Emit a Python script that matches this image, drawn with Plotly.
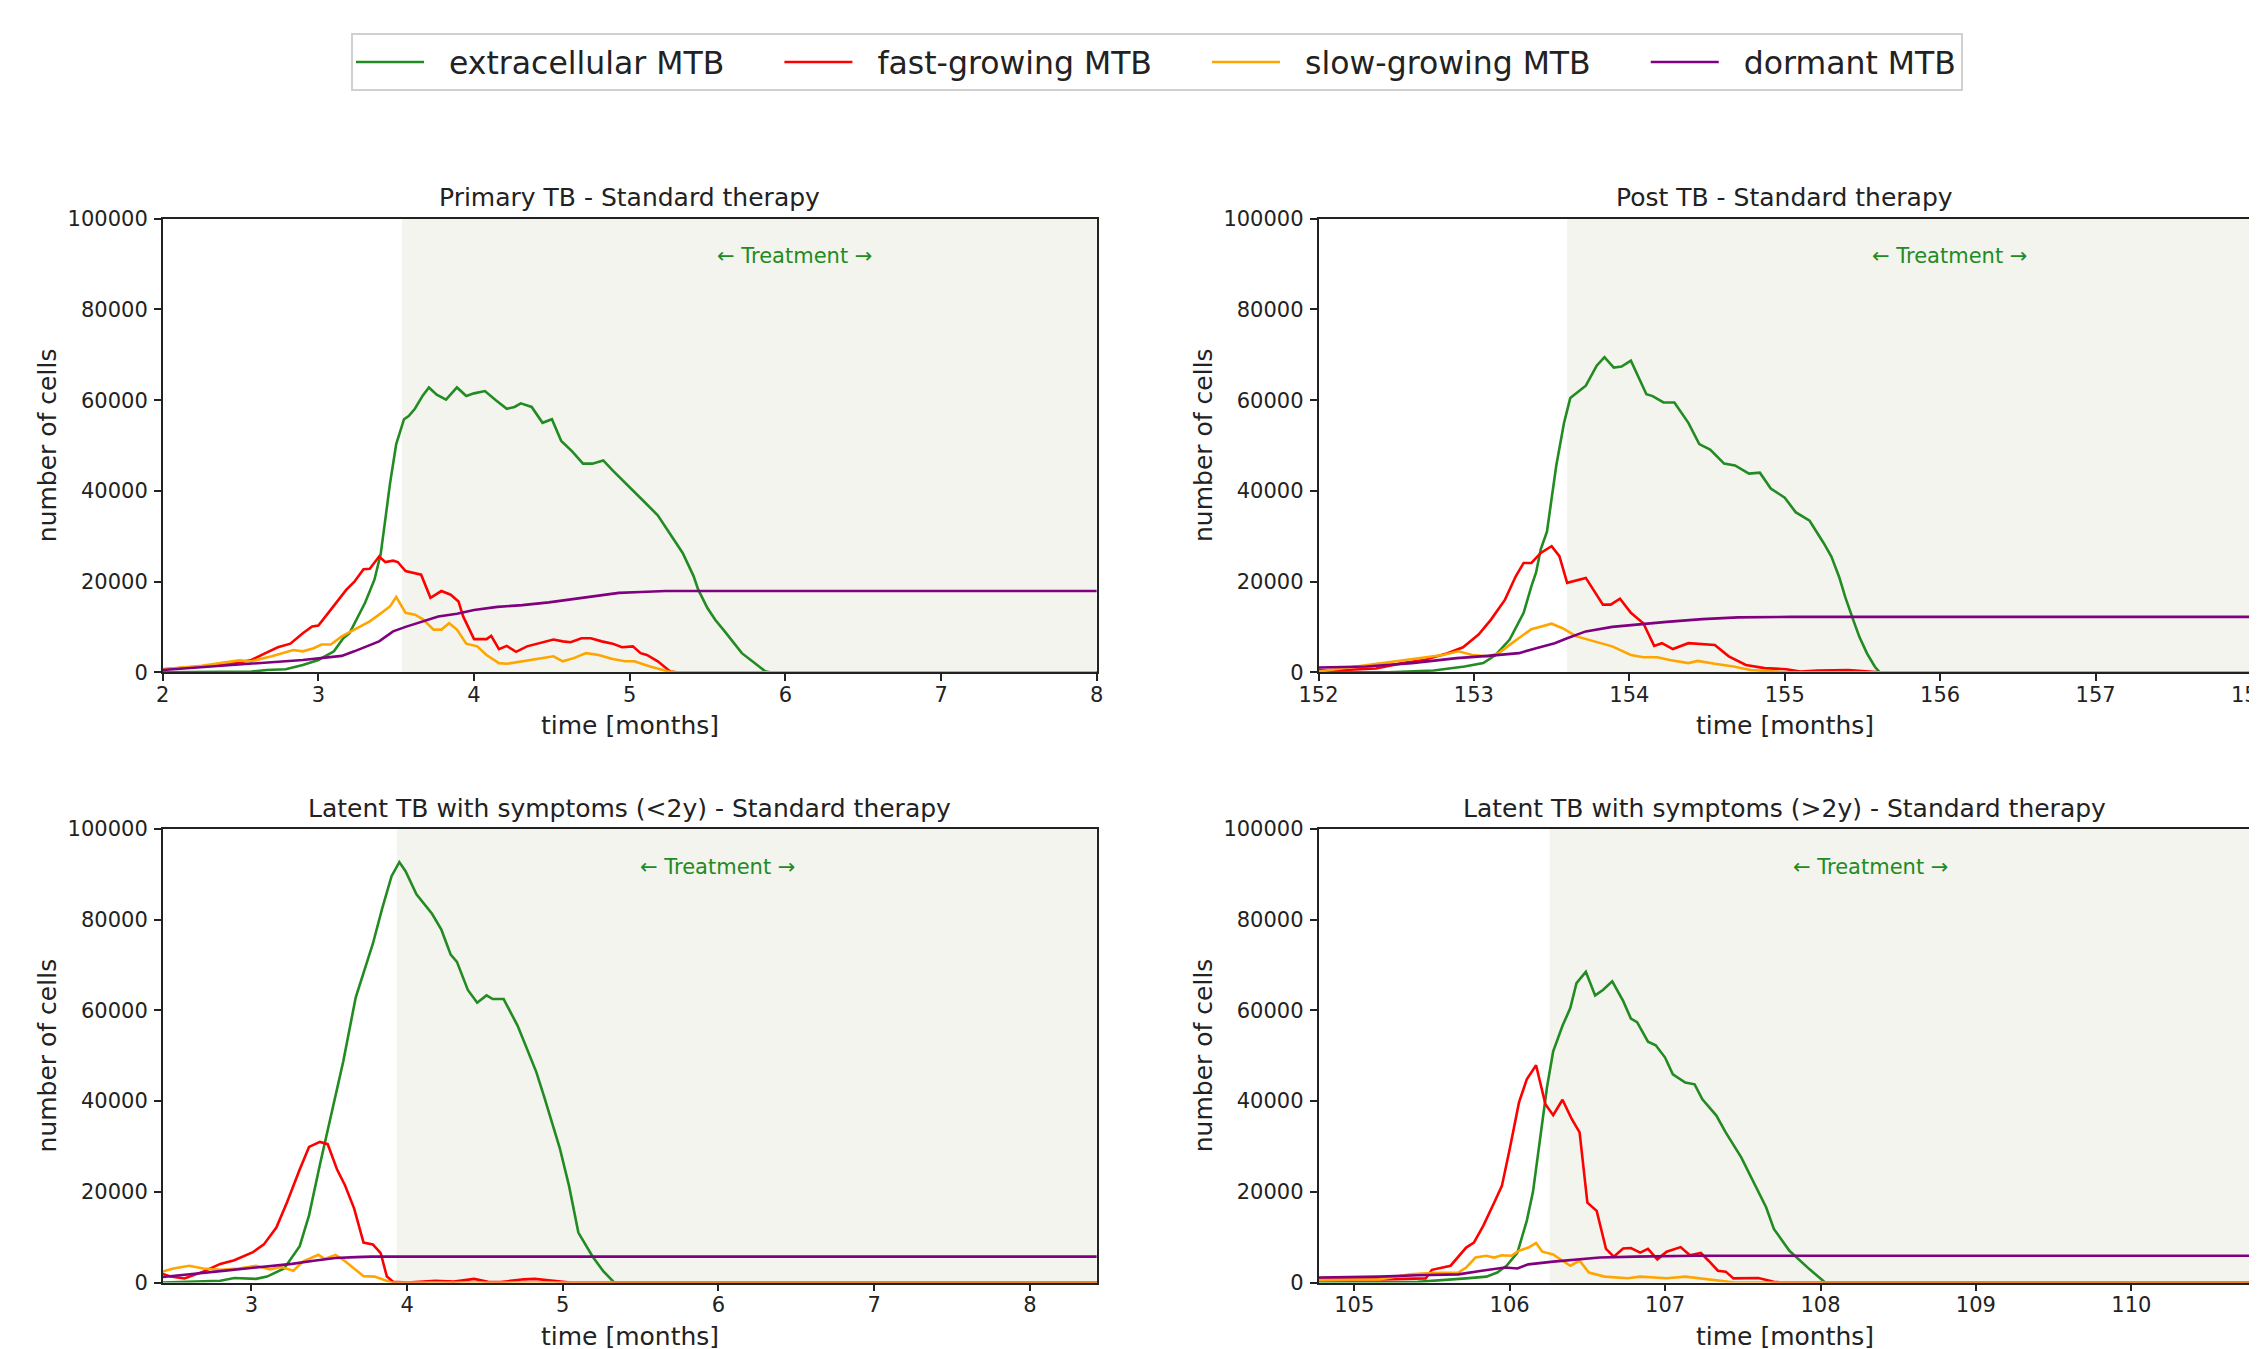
import plotly.graph_objects as go

# ---------------- data ----------------
series_names = ["extracellular MTB", "fast-growing MTB", "slow-growing MTB", "dormant MTB"]
series_colors = ["#228B22", "#FF0000", "#FFA500", "#800080"]

panel_titles = [
    "Primary TB - Standard therapy",
    "Post TB - Standard therapy",
    "Latent TB with symptoms (<2y) - Standard therapy",
    "Latent TB with symptoms (>2y) - Standard therapy",
]
x_ranges = [[2, 8.0001], [152, 158.0001], [2.43, 8.43], [104.77, 110.77]]
x_ticks = [[2, 3, 4, 5, 6, 7, 8], [152, 153, 154, 155, 156, 157, 158],
           [3, 4, 5, 6, 7, 8], [105, 106, 107, 108, 109, 110]]
y_ticks = [0, 20000, 40000, 60000, 80000, 100000]
treatment_start = [3.537, 153.60, 3.933, 106.257]
treatment_label_x = [6.06, 156.06, 5.996, 108.32]
treatment_label_y = 91700

# Panel 1: Primary TB
p1_ext_t = [2.0, 2.3, 2.57, 2.67, 2.79, 2.9, 3.0, 3.10, 3.16, 3.20, 3.25, 3.30, 3.36, 3.40, 3.43, 3.46, 3.50, 3.55, 3.58, 3.62, 3.67, 3.71, 3.76, 3.82, 3.89, 3.95, 4.00, 4.07, 4.14, 4.21, 4.26, 4.30, 4.37, 4.44, 4.50, 4.56, 4.63, 4.70, 4.76, 4.83, 4.89, 4.95, 5.02, 5.09, 5.18, 5.23, 5.30, 5.34, 5.41, 5.44, 5.50, 5.55, 5.61, 5.67, 5.72, 5.80, 5.87, 5.9, 8.0]
p1_ext_v = [0, 0, 150, 500, 660, 1600, 2700, 4600, 7500, 8600, 12000, 15300, 20400, 26000, 33700, 41600, 50300, 55800, 56500, 58100, 61000, 62800, 61200, 60100, 62800, 60900, 61500, 62000, 60000, 58100, 58500, 59300, 58500, 55000, 55800, 51000, 48700, 46000, 46000, 46700, 44500, 42400, 40100, 37700, 34600, 32000, 28200, 26300, 21200, 18200, 14100, 11500, 9000, 6500, 4200, 2100, 200, 0, 0]
p1_fast_t = [2.0, 2.25, 2.48, 2.57, 2.66, 2.74, 2.82, 2.90, 2.96, 3.00, 3.08, 3.18, 3.23, 3.29, 3.33, 3.39, 3.43, 3.48, 3.51, 3.56, 3.66, 3.72, 3.79, 3.85, 3.90, 3.93, 4.00, 4.08, 4.11, 4.16, 4.21, 4.27, 4.34, 4.44, 4.51, 4.57, 4.62, 4.69, 4.75, 4.82, 4.89, 4.95, 5.02, 5.07, 5.11, 5.18, 5.26, 5.30, 8.0]
p1_fast_v = [660, 1250, 2100, 2700, 4200, 5500, 6300, 8600, 10100, 10300, 13800, 18200, 19900, 22700, 22800, 25500, 24300, 24600, 24300, 22300, 21500, 16400, 17900, 17100, 15600, 12300, 7300, 7300, 8000, 5100, 5800, 4500, 5700, 6600, 7200, 6800, 6600, 7500, 7500, 6800, 6300, 5500, 5700, 4200, 3800, 2400, 150, 0, 0]
p1_slow_t = [2.0, 2.25, 2.49, 2.57, 2.70, 2.79, 2.84, 2.90, 2.97, 3.02, 3.08, 3.15, 3.23, 3.33, 3.39, 3.46, 3.50, 3.56, 3.62, 3.67, 3.74, 3.79, 3.84, 3.89, 3.95, 4.02, 4.08, 4.16, 4.21, 4.31, 4.41, 4.51, 4.57, 4.64, 4.72, 4.80, 4.89, 4.97, 5.03, 5.13, 5.25, 5.30, 8.0]
p1_slow_v = [660, 1400, 2600, 2400, 3500, 4400, 4900, 4600, 5300, 6100, 6100, 7900, 9400, 11200, 12700, 14500, 16600, 13100, 12700, 11700, 9400, 9400, 10800, 9400, 6300, 5700, 3800, 2000, 1850, 2400, 2900, 3500, 2400, 3100, 4200, 3800, 2900, 2400, 2400, 1250, 150, 0, 0]
p1_dorm_t = [2.0, 2.25, 2.57, 2.90, 3.15, 3.23, 3.39, 3.48, 3.56, 3.66, 3.77, 3.89, 4.00, 4.15, 4.31, 4.48, 4.64, 4.80, 4.93, 5.07, 5.23, 8.0]
p1_dorm_v = [500, 1100, 2000, 2700, 3600, 4600, 6800, 9000, 10000, 11100, 12300, 12900, 13700, 14400, 14800, 15400, 16200, 16900, 17500, 17700, 17900, 17900]

# Panel 2: Post TB
p2_ext_t = [152.0, 152.45, 152.74, 152.94, 153.06, 153.14, 153.23, 153.32, 153.37, 153.40, 153.43, 153.47, 153.53, 153.58, 153.62, 153.67, 153.72, 153.79, 153.84, 153.90, 153.95, 154.01, 154.11, 154.15, 154.22, 154.29, 154.38, 154.45, 154.52, 154.61, 154.68, 154.77, 154.84, 154.91, 155.00, 155.07, 155.16, 155.25, 155.30, 155.35, 155.39, 155.44, 155.48, 155.53, 155.58, 155.61, 158.0]
p2_ext_v = [0, 0, 370, 1250, 2000, 3800, 7200, 13100, 19000, 22000, 27100, 31000, 45600, 55000, 60500, 61800, 63200, 67600, 69500, 67200, 67400, 68700, 61300, 60900, 59500, 59500, 55000, 50300, 49100, 46000, 45600, 43800, 44000, 40500, 38500, 35300, 33400, 28500, 25500, 21000, 16500, 11600, 7800, 4100, 1200, 0, 0]
p2_fast_t = [152.0, 152.17, 152.37, 152.54, 152.68, 152.83, 152.93, 153.03, 153.11, 153.20, 153.27, 153.32, 153.37, 153.43, 153.50, 153.55, 153.60, 153.66, 153.72, 153.83, 153.88, 153.94, 154.01, 154.09, 154.16, 154.21, 154.28, 154.38, 154.47, 154.55, 154.64, 154.75, 154.87, 155.01, 155.10, 155.21, 155.41, 155.50, 155.61, 158.0]
p2_fast_v = [500, 500, 800, 2000, 2700, 4200, 5500, 8300, 11600, 16000, 21200, 24100, 24100, 26300, 27800, 25600, 19700, 20200, 20800, 14900, 14900, 16200, 13100, 10800, 5800, 6400, 5100, 6400, 6100, 6000, 3500, 1600, 900, 660, 150, 370, 500, 200, 0, 0]
p2_slow_t = [152.0, 152.37, 152.54, 152.68, 152.80, 152.90, 152.99, 153.09, 153.16, 153.26, 153.37, 153.50, 153.57, 153.66, 153.78, 153.89, 154.01, 154.09, 154.18, 154.26, 154.38, 154.44, 154.55, 154.67, 154.78, 154.93, 155.0, 158.0]
p2_slow_v = [150, 1850, 2600, 3200, 3800, 4600, 3800, 3500, 4200, 6800, 9500, 10700, 9700, 7900, 6800, 5700, 3800, 3300, 3300, 2700, 2000, 2500, 1850, 1250, 500, 150, 0, 0]
p2_dorm_t = [152.0, 152.31, 152.60, 152.89, 153.09, 153.29, 153.40, 153.52, 153.60, 153.72, 153.89, 154.06, 154.24, 154.47, 154.70, 155.04, 158.0]
p2_dorm_v = [1030, 1250, 2000, 3100, 3600, 4200, 5300, 6400, 7500, 9000, 10000, 10600, 11100, 11700, 12100, 12200, 12200]

# Panel 3: Latent TB (<2y)
p3_ext_t = [2.43, 2.70, 2.80, 2.89, 3.03, 3.10, 3.21, 3.31, 3.37, 3.44, 3.49, 3.54, 3.59, 3.67, 3.73, 3.78, 3.84, 3.90, 3.95, 3.99, 4.06, 4.14, 4.16, 4.22, 4.28, 4.32, 4.39, 4.45, 4.51, 4.55, 4.62, 4.71, 4.78, 4.83, 4.88, 4.98, 5.04, 5.10, 5.19, 5.26, 5.33, 8.43]
p3_ext_v = [0, 200, 400, 1000, 800, 1300, 3100, 8000, 14800, 26000, 33500, 41000, 48800, 62900, 69200, 74700, 82500, 89600, 92700, 90700, 85600, 82100, 81300, 77800, 72300, 70700, 64500, 61700, 63300, 62500, 62500, 56600, 50400, 46400, 41000, 29700, 21300, 11000, 5800, 2500, 0, 0]
p3_fast_t = [2.43, 2.48, 2.57, 2.69, 2.80, 2.89, 3.01, 3.08, 3.16, 3.23, 3.31, 3.37, 3.44, 3.49, 3.55, 3.60, 3.66, 3.72, 3.78, 3.83, 3.87, 3.91, 4.0, 4.18, 4.30, 4.43, 4.52, 4.60, 4.75, 4.82, 4.94, 5.05, 8.43]
p3_fast_v = [1900, 1300, 900, 2400, 4100, 4900, 6700, 8400, 12100, 17800, 24900, 29900, 31000, 30500, 24900, 21500, 16300, 8800, 8400, 6500, 1300, 150, 0, 370, 200, 800, 150, 100, 700, 800, 370, 0, 0]
p3_slow_t = [2.43, 2.50, 2.60, 2.69, 2.80, 2.92, 3.03, 3.12, 3.19, 3.27, 3.33, 3.37, 3.43, 3.47, 3.54, 3.59, 3.66, 3.72, 3.79, 3.86, 3.90, 8.43]
p3_slow_v = [2400, 3100, 3700, 3100, 2800, 3100, 3700, 2900, 3400, 2600, 4600, 5200, 6100, 5200, 6100, 5000, 3100, 1400, 1300, 370, 0, 0]
p3_dorm_t = [2.43, 2.57, 2.80, 3.03, 3.26, 3.40, 3.54, 3.67, 3.77, 8.43]
p3_dorm_v = [1200, 1650, 2500, 3300, 4100, 4800, 5400, 5600, 5700, 5700]

# Panel 4: Latent TB (>2y)
p4_ext_t = [104.77, 105.41, 105.72, 105.85, 105.92, 105.98, 106.05, 106.11, 106.15, 106.20, 106.24, 106.28, 106.34, 106.39, 106.43, 106.49, 106.55, 106.60, 106.66, 106.73, 106.78, 106.82, 106.89, 106.94, 107.00, 107.05, 107.13, 107.19, 107.24, 107.33, 107.39, 107.49, 107.55, 107.65, 107.70, 107.80, 107.93, 108.03, 110.77]
p4_ext_v = [0, 150, 900, 1300, 2200, 3700, 6600, 13600, 20000, 33000, 43000, 51000, 56600, 60500, 66000, 68500, 63300, 64500, 66400, 62100, 58200, 57400, 53100, 52300, 49600, 45900, 44100, 43700, 40400, 36800, 33100, 27600, 23500, 16600, 11800, 7000, 2900, 0, 0]
p4_fast_t = [104.77, 105.16, 105.46, 105.50, 105.62, 105.72, 105.77, 105.83, 105.90, 105.95, 106.00, 106.06, 106.11, 106.17, 106.23, 106.28, 106.34, 106.40, 106.45, 106.50, 106.56, 106.62, 106.67, 106.73, 106.78, 106.84, 106.89, 106.95, 107.01, 107.10, 107.16, 107.23, 107.28, 107.34, 107.39, 107.44, 107.60, 107.70, 107.75, 110.77]
p4_fast_v = [700, 700, 900, 2800, 3700, 7700, 8800, 12500, 17600, 21300, 29400, 39700, 44800, 47900, 39300, 36900, 40300, 36000, 33100, 17600, 15800, 7400, 5700, 7500, 7600, 6600, 7400, 5100, 6800, 7800, 6000, 6500, 4800, 2600, 2400, 900, 1000, 150, 0, 0]
p4_slow_t = [104.77, 105.16, 105.36, 105.49, 105.67, 105.72, 105.78, 105.85, 105.90, 105.95, 106.01, 106.06, 106.12, 106.17, 106.21, 106.28, 106.34, 106.39, 106.45, 106.51, 106.61, 106.76, 106.84, 107.01, 107.13, 107.27, 107.39, 107.45, 110.77]
p4_slow_v = [600, 700, 1800, 2100, 2200, 3300, 5500, 5900, 5500, 6000, 5900, 7000, 7700, 8700, 6800, 6200, 4800, 3700, 4800, 2200, 1300, 950, 1300, 950, 1300, 700, 200, 0, 0]
p4_dorm_t = [104.77, 105.16, 105.41, 105.67, 105.82, 105.97, 106.05, 106.12, 106.28, 106.43, 106.58, 106.81, 107.19, 110.77]
p4_dorm_v = [1100, 1300, 1600, 1800, 2600, 3300, 3100, 4000, 4600, 5100, 5500, 5700, 5900, 5900]

panels = [
    [(p1_ext_t, p1_ext_v), (p1_fast_t, p1_fast_v), (p1_slow_t, p1_slow_v), (p1_dorm_t, p1_dorm_v)],
    [(p2_ext_t, p2_ext_v), (p2_fast_t, p2_fast_v), (p2_slow_t, p2_slow_v), (p2_dorm_t, p2_dorm_v)],
    [(p3_ext_t, p3_ext_v), (p3_fast_t, p3_fast_v), (p3_slow_t, p3_slow_v), (p3_dorm_t, p3_dorm_v)],
    [(p4_ext_t, p4_ext_v), (p4_fast_t, p4_fast_v), (p4_slow_t, p4_slow_v), (p4_dorm_t, p4_dorm_v)],
]

# ---------------- layout ----------------
W, H = 2257, 1349
OFF = 8  # page body margin offset
FONT = "DejaVu Sans"
NB = "\u00a0"
# axes boxes in screen pixels: (left, right, top, bottom)
boxes = [
    (162.7, 1096.8, 218.8, 672.2),
    (1318.5, 2251.0, 218.8, 672.2),
    (162.7, 1096.8, 829.0, 1282.5),
    (1318.5, 2251.0, 829.0, 1282.5),
]


def px(xs):
    return (xs - OFF) / W


def py(ys):
    return 1 - (ys - OFF) / H


fig = go.Figure()
layout = dict(
    width=W, height=H,
    margin=dict(l=0, r=0, t=0, b=0, pad=0, autoexpand=False),
    paper_bgcolor="white", plot_bgcolor="white",
    font=dict(family=FONT, size=21, color="#222"),
    showlegend=True,
)
shapes = []
annotations = []

for i, (box, data) in enumerate(zip(boxes, panels)):
    n = i + 1
    xa = "xaxis" if n == 1 else f"xaxis{n}"
    ya = "yaxis" if n == 1 else f"yaxis{n}"
    xr = "x" if n == 1 else f"x{n}"
    yr = "y" if n == 1 else f"y{n}"
    l, r, t, b = box
    layout[xa] = dict(
        domain=[px(l), px(r)], anchor=yr, range=x_ranges[i], automargin=False,
        tickvals=x_ticks[i], ticks="outside", ticklen=7, tickwidth=1.5, tickcolor="#222",
        showline=True, linecolor="#222", linewidth=1.5, mirror=True,
        showgrid=False, zeroline=False, tickfont=dict(size=21, color="#222"),
        ticklabeloverflow="allow", ticklabelstandoff=-4,
    )
    layout[ya] = dict(
        domain=[py(b), py(t)], anchor=xr, range=[0, 100000], automargin=False,
        tickvals=y_ticks, ticktext=[str(v) for v in y_ticks],
        ticks="outside", ticklen=7, tickwidth=1.5, tickcolor="#222",
        showline=True, linecolor="#222", linewidth=1.5, mirror=True,
        showgrid=False, zeroline=False, tickfont=dict(size=21, color="#222"),
        ticklabeloverflow="allow", ticklabelstandoff=2,
    )
    # treatment shading
    shapes.append(dict(
        type="rect", xref=xr, yref=f"{yr} domain",
        x0=treatment_start[i], x1=x_ranges[i][1], y0=0, y1=1,
        fillcolor="rgb(243,244,238)", line=dict(width=0), layer="below",
    ))
    annotations.append(dict(
        xref=xr, yref=yr, x=treatment_label_x[i], y=treatment_label_y,
        text="\u2190 Treatment \u2192", showarrow=False,
        font=dict(family=FONT, size=21, color="#228B22"),
        xanchor="center", yanchor="middle",
    ))
    # subplot title
    annotations.append(dict(
        xref="paper", yref="paper", x=px((l + r) / 2), y=py(t - 21),
        text=panel_titles[i], showarrow=False,
        font=dict(family=FONT, size=25, color="#222"),
        xanchor="center", yanchor="middle",
    ))
    # x-axis title
    annotations.append(dict(
        xref="paper", yref="paper", x=px((l + r) / 2), y=py(b + 53.5),
        text="time [months]", showarrow=False,
        font=dict(family=FONT, size=25, color="#222"),
        xanchor="center", yanchor="middle",
    ))
    # y-axis title
    annotations.append(dict(
        xref="paper", yref="paper", x=px(l - 115), y=py((t + b) / 2),
        text="number of cells", showarrow=False, textangle=-90,
        font=dict(family=FONT, size=25, color="#222"),
        xanchor="center", yanchor="middle",
    ))
    for k, (tt, vv) in enumerate(data):
        label = NB * 2 + series_names[k] + (NB * 5 if k < len(series_names) - 1 else "")
        fig.add_trace(go.Scatter(
            x=tt, y=vv, mode="lines", name=label,
            line=dict(color=series_colors[k], width=2.6),
            xaxis=xr, yaxis=yr, showlegend=(i == 0), legendgroup=series_names[k],
        ))

layout["shapes"] = shapes
layout["annotations"] = annotations
layout["legend"] = dict(
    orientation="h", x=px(1157), xanchor="center", y=py(33), yanchor="top",
    bgcolor="white", bordercolor="#d0d0d0", borderwidth=2,
    font=dict(family=FONT, size=31.5, color="#222"),
    itemwidth=68, tracegroupgap=0,
)
fig.update_layout(**layout)
fig.write_html("out.html")
